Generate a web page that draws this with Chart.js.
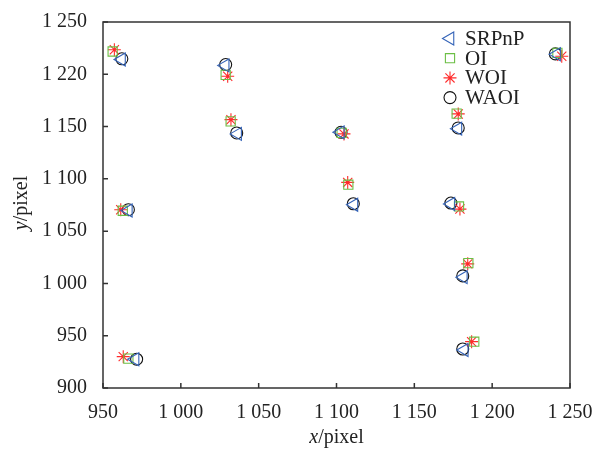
<!DOCTYPE html>
<html>
<head>
<meta charset="utf-8">
<script src="https://cdn.jsdelivr.net/npm/chart.js@4.4.1/dist/chart.umd.min.js"></script>
<style>
  html, body { margin: 0; padding: 0; background: #fff; }
  #wrap { width: 593px; height: 454px; }
</style>
</head>
<body>
<div id="wrap"><canvas id="chartjs-0" width="593" height="454"></canvas></div>
<script>
"use strict";

// series names
var seriesNames = ["SRPnP", "OI", "WOI", "WAOI"];

// point positions (x, y) per method
var srpnpX = [961.9, 1028.5, 1036.5, 1102.5, 1178.0, 1241.4, 966.3, 1111.2, 1173.5, 1181.5, 970.6, 1182.1];
var srpnpY = [1214.2, 1208.5, 1143.0, 1144.5, 1148.0, 1219.1, 1069.8, 1075.2, 1076.0, 1006.0, 927.5, 936.4];

var oiX = [956.2, 1028.8, 1032.0, 1103.3, 1177.2, 1241.9, 962.7, 1107.6, 1178.7, 1184.7, 966.3, 1188.5];
var oiY = [1221.8, 1199.4, 1155.0, 1144.0, 1162.4, 1220.5, 1069.5, 1094.4, 1073.6, 1019.4, 928.1, 944.3];

var woiX = [957.3, 1030.1, 1032.2, 1104.8, 1178.2, 1244.7, 961.4, 1107.2, 1179.3, 1184.3, 963.0, 1186.8];
var woiY = [1223.4, 1198.1, 1156.6, 1143.0, 1162.1, 1217.3, 1070.5, 1096.6, 1071.1, 1018.7, 930.0, 944.3];

var waoiX = [962.1, 1028.8, 1035.9, 1102.9, 1178.2, 1240.6, 966.3, 1110.8, 1173.5, 1181.1, 971.6, 1181.1];
var waoiY = [1214.8, 1209.3, 1143.9, 1144.5, 1148.7, 1219.5, 1070.5, 1076.2, 1076.9, 1007.2, 927.5, 937.3];

// tick labels as printed (the original prints "1 220" at the 1200 line)
var xTickLabels = ["950", "1 000", "1 050", "1 100", "1 150", "1 200", "1 250"];
var yTickLabels = ["900", "950", "1 000", "1 050", "1 100", "1 150", "1 220", "1 250"];

function toPoints(xs, ys) {
    var pts = [];
    for (var i = 0; i < xs.length; i++) {
        pts.push({ x: xs[i], y: ys[i] });
    }
    return pts;
}

var serif = "'Liberation Serif', 'Times New Roman', serif";
var axisColor = "#333333";

var styles = [
    { color: "#3564b8", pointStyle: "triangle", rotation: 270, radius: 7.5 },
    { color: "#6cbf45", pointStyle: "rect", rotation: 0, radius: 6.5 },
    { color: "#ff2b2b", pointStyle: "star", rotation: 0, radius: 6.5 },
    { color: "#111111", pointStyle: "circle", rotation: 0, radius: 6 }
];

var allData = [toPoints(srpnpX, srpnpY), toPoints(oiX, oiY), toPoints(woiX, woiY), toPoints(waoiX, waoiY)];

var datasets = [];
for (var k = 0; k < seriesNames.length; k++) {
    datasets.push({
        label: seriesNames[k],
        data: allData[k],
        pointStyle: styles[k].pointStyle,
        rotation: styles[k].rotation,
        pointRadius: styles[k].radius,
        pointHoverRadius: styles[k].radius,
        borderColor: styles[k].color,
        backgroundColor: "rgba(0,0,0,0)",
        borderWidth: 1.1,
        showLine: false
    });
}

// frame, inward ticks, axis titles and legend
var framePlugin = {
    id: "framePlugin",
    afterDraw: function (chart) {
        var ctx = chart.ctx;
        var a = chart.chartArea;
        var xs = chart.scales.x;
        var ys = chart.scales.y;
        ctx.save();
        ctx.strokeStyle = axisColor;
        ctx.lineWidth = 1.5;
        ctx.strokeRect(a.left, a.top, a.right - a.left, a.bottom - a.top);

        ctx.beginPath();
        xs.ticks.forEach(function (t) {
            var px = xs.getPixelForValue(t.value);
            ctx.moveTo(px, a.bottom);
            ctx.lineTo(px, a.bottom - 5);
        });
        ys.ticks.forEach(function (t) {
            var py = ys.getPixelForValue(t.value);
            ctx.moveTo(a.left, py);
            ctx.lineTo(a.left + 5, py);
        });
        ctx.stroke();

        // axis titles: italic variable, upright unit
        ctx.fillStyle = "#222222";
        ctx.textBaseline = "middle";
        var upright = "20px " + serif;
        var italic = "italic 20px " + serif;
        ctx.font = italic;
        var w1 = ctx.measureText("x").width;
        ctx.font = upright;
        var w2 = ctx.measureText("/pixel").width;
        var cx = (a.left + a.right) / 2;
        var startX = cx - (w1 + w2) / 2;
        ctx.textAlign = "left";
        ctx.font = italic;
        ctx.fillText("x", startX, 438);
        ctx.font = upright;
        ctx.fillText("/pixel", startX + w1, 438);

        ctx.save();
        ctx.translate(22, 203);
        ctx.rotate(-Math.PI / 2);
        ctx.font = italic;
        w1 = ctx.measureText("y").width;
        ctx.font = upright;
        w2 = ctx.measureText("/pixel").width;
        startX = -(w1 + w2) / 2;
        ctx.font = italic;
        ctx.fillText("y", startX, 0);
        ctx.font = upright;
        ctx.fillText("/pixel", startX + w1, 0);
        ctx.restore();

        // legend inside the plot, top right
        var lx = 450, ly = 38.5, step = 19.7;
        ctx.font = "21px " + serif;
        ctx.textAlign = "left";
        for (var i = 0; i < seriesNames.length; i++) {
            var st = styles[i];
            var yy = ly + i * step;
            ctx.strokeStyle = st.color;
            ctx.fillStyle = "rgba(0,0,0,0)";
            ctx.lineWidth = 1.1;
            Chart.helpers.drawPoint(ctx, {
                pointStyle: st.pointStyle,
                rotation: st.rotation,
                radius: st.radius,
                borderWidth: 1.1
            }, lx, yy);
            ctx.fillStyle = "#222222";
            ctx.fillText(seriesNames[i], lx + 15, yy + 1);
        }
        ctx.restore();
    }
};

var ctx0 = document.getElementById("chartjs-0");
var myChart = new Chart(ctx0, {
    type: "scatter",
    data: { datasets: datasets },
    options: {
        responsive: false,
        animation: false,
        layout: { padding: { left: 0, right: 23, top: 22, bottom: 0 } },
        plugins: {
            legend: { display: false },
            tooltip: { enabled: false }
        },
        scales: {
            x: {
                type: "linear",
                min: 950,
                max: 1250,
                grid: { display: false, drawTicks: false },
                border: { display: false },
                ticks: {
                    stepSize: 50,
                    autoSkip: false,
                    maxRotation: 0,
                    padding: 13,
                    color: "#222222",
                    font: { family: serif, size: 20 },
                    callback: function (value, index) { return xTickLabels[index]; }
                },
                afterFit: function (scale) {
                    scale.height = 66;
                    scale.paddingLeft = 0;
                    scale.paddingRight = 0;
                }
            },
            y: {
                type: "linear",
                min: 900,
                max: 1250,
                grid: { display: false, drawTicks: false },
                border: { display: false },
                ticks: {
                    stepSize: 50,
                    autoSkip: false,
                    padding: 16,
                    color: "#222222",
                    font: { family: serif, size: 20 },
                    callback: function (value, index) { return yTickLabels[index]; }
                },
                afterFit: function (scale) {
                    scale.width = 103;
                    scale.paddingTop = 0;
                    scale.paddingBottom = 0;
                }
            }
        }
    },
    plugins: [framePlugin]
});
</script>
</body>
</html>
